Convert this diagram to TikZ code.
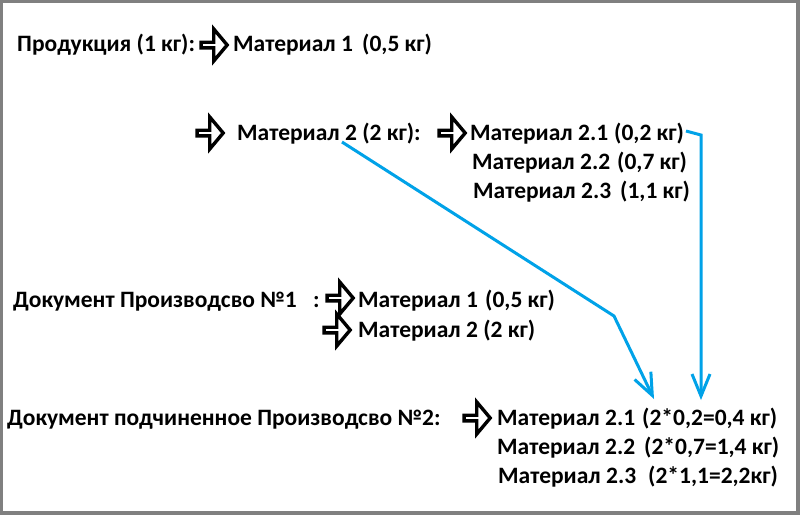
\documentclass[tikz,border=0pt]{standalone}
\usepackage{fontspec}
\setmainfont{Carlito}
\usepackage{tikz}
\usetikzlibrary{shapes,arrows.meta}
\definecolor{linkblue}{RGB}{0,162,232}
\tikzstyle{txt} = [anchor=base west, inner sep=0pt, font=\fontsize{23.5}{28}\selectfont\bfseries]
\tikzstyle{bigarrow} = [draw, single arrow, line width=3.4pt, fill=white, inner sep=0pt, minimum height=26pt, minimum width=32pt, single arrow head extend=8pt, single arrow tip angle=100]
\tikzstyle{link} = [draw=linkblue, line width=3pt, -{Straight Barb[length=22pt,width=18pt]}]

\begin{document}
\begin{tikzpicture}[x=1pt,y=-1pt]
	\fill[gray] (0,0) rectangle (800,515); % frame
	\fill[white] (3,3) rectangle (796,511);
	\useasboundingbox (0,0) rectangle (800,515);
	% product
	\node[txt] (prod) at (17,51) {Продукция (1 кг):};
	\node[bigarrow] (arrA) at (213,45) {};
	\node[txt] (matA) at (233,51) {Материал 1};
	\node[txt] (qtyA) at (362,51) {(0,5 кг)};
	% material 2
	\node[bigarrow] (arrB) at (209,133) {};
	\node[txt] (matB) at (237,140) {Материал 2 (2 кг):};
	\node[bigarrow] (arrC) at (451,133) {};
	\node[txt] (subA) at (470,140) {Материал 2.1};
	\node[txt] (sqA) at (614,140) {(0,2 кг)};
	\node[txt] (subB) at (472,169) {Материал 2.2};
	\node[txt] (sqB) at (617,169) {(0,7 кг)};
	\node[txt] (subC) at (473,198) {Материал 2.3};
	\node[txt] (sqC) at (620,198) {(1,1 кг)};
	% document 1
	\node[txt] (docA) at (13,307) {Документ Производсво №1};
	\node[txt] (colA) at (313,307) {:};
	\node[bigarrow] (arrD) at (339,298) {};
	\node[txt] (dmA) at (358,307) {Материал 1};
	\node[txt] (dqA) at (485,307) {(0,5 кг)};
	\node[bigarrow] (arrE) at (336,330) {};
	\node[txt] (dmB) at (358,337) {Материал 2 (2 кг)};
	% document 2
	\node[txt] (docB) at (7,425) {Документ подчиненное Производсво №2:};
	\node[bigarrow] (arrF) at (476,418) {};
	\node[txt] (dsA) at (497,425) {Материал 2.1};
	\node[txt] (dqB) at (642,425) {(2*0,2=0,4 кг)};
	\node[txt] (dsB) at (497,454) {Материал 2.2};
	\node[txt] (dqC) at (644,454) {(2*0,7=1,4 кг)};
	\node[txt] (dsC) at (498,483) {Материал 2.3};
	\node[txt] (dqD) at (648,483) {(2*1,1=2,2кг)};
	% links
	\coordinate (startA) at (342,142);
	\coordinate (bendA) at (614,316);
	\coordinate (endA) at (654,399);
	\coordinate (startB) at (686,131);
	\coordinate (bendB) at (701,135);
	\coordinate (endB) at (701,400);
	\draw[link] (startA) -- (bendA) -- (endA);
	\draw[link] (startB) -- (bendB) -- (endB);
\end{tikzpicture}
\end{document}
